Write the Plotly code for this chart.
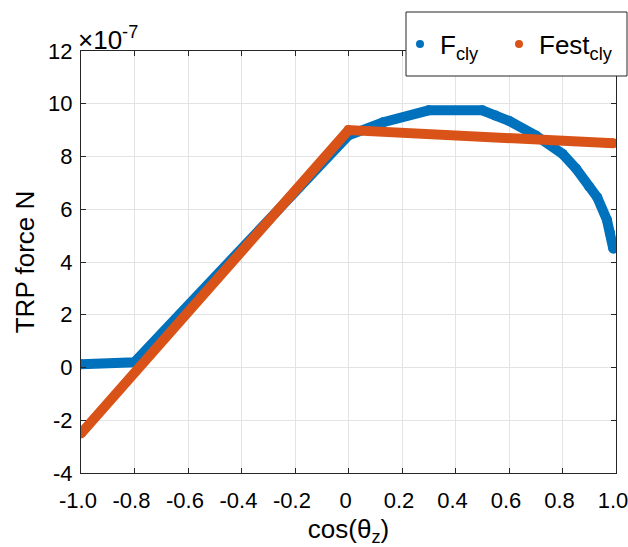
import plotly.graph_objects as go

# Data (force in units of 1e-7 N)
x_F = [-1.0, -0.8, 0.0, 0.13, 0.30, 0.50, 0.55, 0.60, 0.70, 0.75, 0.80, 0.85, 0.90, 0.93, 0.966, 0.978, 0.99]
F_cly = [0.12, 0.2, 8.8, 9.3, 9.75, 9.75, 9.55, 9.35, 8.8, 8.5, 8.1, 7.55, 6.85, 6.45, 5.6, 5.1, 4.5]

x_Fest = [-1.0, 0.0, 0.99]
Fest_cly = [-2.5, 9.0, 8.5]

x_ticks = [-1.0, -0.8, -0.6, -0.4, -0.2, 0.0, 0.2, 0.4, 0.6, 0.8, 1.0]
x_ticklabels = ["-1.0", "-0.8", "-0.6", "-0.4", "-0.2", "0", "0.2", "0.4", "0.6", "0.8", "1.0"]
y_ticks = [-4, -2, 0, 2, 4, 6, 8, 10, 12]
y_ticklabels = ["-4", "-2", "0", "2", "4", "6", "8", "10", "12"]

blue = "#0072BD"
orange = "#D95319"
font_family = "Liberation Sans, Arial, sans-serif"

fig = go.Figure()
fig.add_trace(go.Scatter(x=x_F, y=F_cly, mode="lines+markers",
                         line=dict(color=blue, width=10),
                         marker=dict(color=blue, size=10),
                         showlegend=False, hoverinfo="skip"))
fig.add_trace(go.Scatter(x=x_Fest, y=Fest_cly, mode="lines+markers",
                         line=dict(color=orange, width=10),
                         marker=dict(color=orange, size=10),
                         showlegend=False, hoverinfo="skip"))
# legend entries
fig.add_trace(go.Scatter(x=[None], y=[None], mode="markers", legend="legend",
                         marker=dict(color=blue, size=8), name="F<sub>cly</sub>"))
fig.add_trace(go.Scatter(x=[None], y=[None], mode="markers", legend="legend2",
                         marker=dict(color=orange, size=8), name="Fest<sub>cly</sub>"))

axis_common = dict(showgrid=True, gridcolor="#E3E3E3", gridwidth=1,
                   zeroline=False, showline=True, linecolor="#262626", linewidth=1,
                   mirror="ticks", ticks="inside", ticklen=5, tickcolor="#262626",
                   ticklabeloverflow="allow",
                   tickfont=dict(size=22, color="black", family=font_family))

fig.update_xaxes(range=[-1.0, 1.0], tickvals=x_ticks, ticktext=x_ticklabels,
                 ticklabelstandoff=8, ticklabelshift=-3,
                 title=dict(text="cos(θ<sub>z</sub>)", font=dict(size=26, color="black", family=font_family),
                            standoff=7),
                 automargin=False,
                 **axis_common)
fig.update_yaxes(range=[-4, 12], tickvals=y_ticks, ticktext=y_ticklabels,
                 ticklabelstandoff=3,
                 title=dict(text="TRP force N", font=dict(size=26, color="black", family=font_family),
                            standoff=6),
                 automargin=False,
                 **axis_common)

fig.add_annotation(xref="paper", yref="paper", x=0.0, y=1.0, xanchor="left", yanchor="bottom",
                   text="×10<sup>-7</sup>", showarrow=False,
                   font=dict(size=26, color="black", family=font_family), xshift=-5, yshift=-6)

# legend frame
fig.add_shape(type="rect", xref="paper", yref="paper",
              x0=(406 - 81) / 535, x1=(627 - 81) / 535,
              y0=(473 - 76) / 422, y1=(473 - 12) / 422,
              line=dict(color="#262626", width=1), fillcolor="white", layer="above")

legend_common = dict(orientation="h", xref="container", yref="container",
                     xanchor="left", yanchor="middle",
                     bgcolor="rgba(0,0,0,0)", borderwidth=0,
                     font=dict(size=26, color="black", family=font_family),
                     itemwidth=30)

fig.update_layout(
    width=628, height=547,
    margin=dict(l=81, r=12, t=51, b=74, autoexpand=False),
    paper_bgcolor="white", plot_bgcolor="white",
    font=dict(family=font_family, color="black"),
    legend=dict(x=400 / 628, y=1 - 44 / 547, **legend_common),
    legend2=dict(x=499 / 628, y=1 - 44 / 547, **legend_common),
)

fig.write_html("out.html")
